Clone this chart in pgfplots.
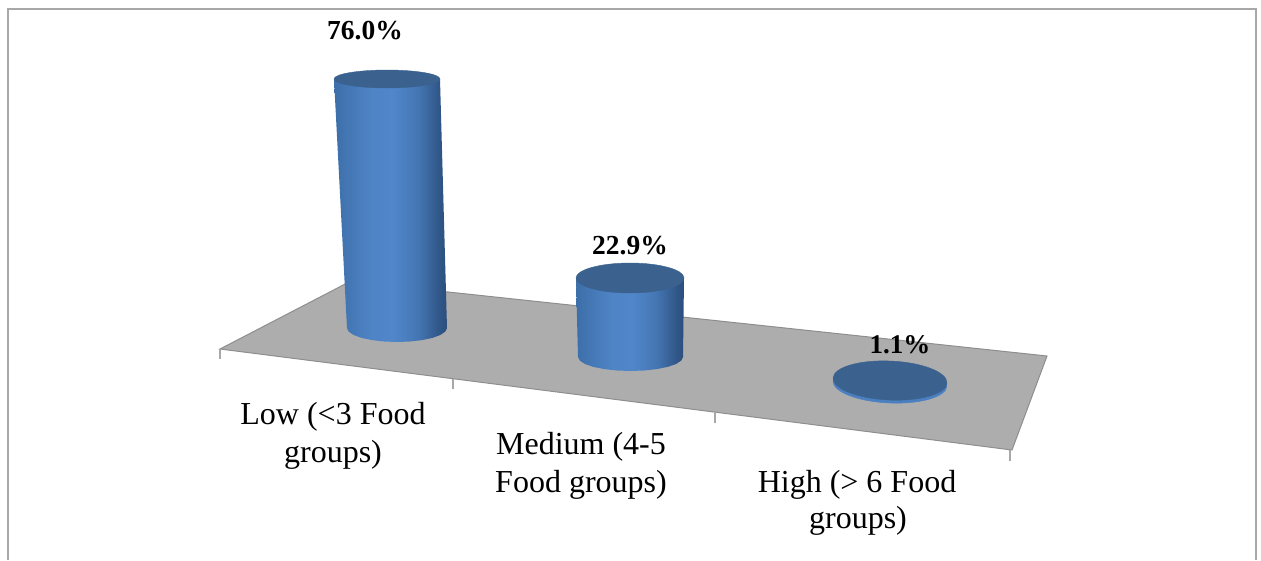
\documentclass[border=0pt]{standalone}
\usepackage{pgfplots}
\pgfplotsset{compat=1.18}
\usepackage{fontspec}
\setmainfont{Liberation Serif}
\definecolor{capcol}{HTML}{3B628F}
\definecolor{floorcol}{HTML}{ADADAD}
\definecolor{flooredge}{HTML}{8E8E8E}
\definecolor{framecol}{HTML}{A8A8A8}
\definecolor{rimcol}{HTML}{4A7FC0}
\definecolor{ca}{HTML}{3D6FA9}
\definecolor{cb}{HTML}{4F84C6}
\definecolor{cc}{HTML}{5087CA}
\definecolor{cd}{HTML}{4576B3}
\definecolor{ce}{HTML}{31588A}
\definecolor{cf}{HTML}{2B4E7C}
\pgfdeclarehorizontalshading{cylbody}{100bp}{color(0bp)=(ca); color(25bp)=(ca); color(42bp)=(cb); color(51bp)=(cc); color(62bp)=(cd); color(71bp)=(ce); color(75bp)=(cf); color(100bp)=(cf)}
\pgfdeclareplotmark{capA}{\pgfpathellipse{\pgfpointorigin}{\pgfqpoint{53pt}{0pt}}{\pgfqpoint{0pt}{9pt}}\pgfusepathqfillstroke}
\pgfdeclareplotmark{capB}{\pgfpathellipse{\pgfpointorigin}{\pgfqpoint{54pt}{0pt}}{\pgfqpoint{0pt}{15pt}}\pgfusepathqfillstroke}
\pgfdeclareplotmark{capC}{\pgfpathellipse{\pgfpointorigin}{\pgfqpoint{57pt}{0pt}}{\pgfqpoint{0pt}{19.5pt}}\pgfusepathqfillstroke}
\begin{document}
\begin{tikzpicture}
\path[use as bounding box] (0,0) rectangle (1261pt,560pt);
\begin{axis}[
  anchor=south west, at={(0,0)},
  width=1261pt, height=560pt, scale only axis,
  xmin=0, xmax=1261, ymin=0, ymax=560, y dir=reverse,
  hide axis, clip=false,
  every node/.append style={inner sep=0pt, outer sep=0pt},
]
% frame (open at the bottom)
\addplot[framecol, line width=2.4pt] coordinates {(8,560)(8,9)(1256,9)(1256,560)};
% floor
\addplot[flooredge, line width=1pt, fill=floorcol] coordinates {(220,349)(350,281.5)(1047,356)(1012,450)} -- cycle;
% ticks
\addplot[framecol, line width=1.4pt] coordinates {(220,349)(220,359)};
\addplot[framecol, line width=1.4pt] coordinates {(453,379)(453,389)};
\addplot[framecol, line width=1.4pt] coordinates {(715,412)(715,423)};
\addplot[framecol, line width=1.4pt] coordinates {(1010,450)(1010,461)};
% Low: 76.0
\addplot[draw=none, shading=cylbody] coordinates {(334,79)(440,79)(447,328)(445.3,331.6)(440.3,335)(432.4,337.9)(422,340.1)(409.9,341.5)(397,342)(384.1,341.5)(372,340.1)(361.6,337.9)(353.7,335)(348.7,331.6)(347,328)} -- cycle;
\addplot[only marks, mark=capA, mark options={fill=capcol, draw=capcol, line width=0.4pt}] coordinates {(387,79)};
% Medium: 22.9
\addplot[draw=none, shading=cylbody] coordinates {(576,278)(684,278)(683,357)(681.2,360.6)(676,364)(667.6,366.9)(656.8,369.1)(644.1,370.5)(630.5,371)(616.9,370.5)(604.3,369.1)(593.4,366.9)(585,364)(579.8,360.6)(578,357)} -- cycle;
\addplot[only marks, mark=capB, mark options={fill=capcol, draw=capcol, line width=0.4pt}] coordinates {(630,278)};
% High: 1.1
\addplot[only marks, mark=capC, mark options={fill=rimcol, draw=rimcol, line width=0.4pt, rotate=-2.5}] coordinates {(890,383.5)};
\addplot[only marks, mark=capC, mark options={fill=capcol, draw=capcol, line width=0.4pt, rotate=-2.5}] coordinates {(890,380.5)};
% value labels
\node[anchor=base, font=\fontsize{27.5}{27.5}\selectfont\bfseries] at (axis cs:365,39) {76.0\%};
\node[anchor=base, font=\fontsize{27.5}{27.5}\selectfont\bfseries] at (axis cs:630,254) {22.9\%};
\node[anchor=base, font=\fontsize{27}{27}\selectfont\bfseries] at (axis cs:900,353) {1.1\%};
% category labels
\node[anchor=base, font=\fontsize{32}{32}\selectfont] at (axis cs:333,424) {Low (<3 Food};
\node[anchor=base, font=\fontsize{32}{32}\selectfont] at (axis cs:333,462) {groups)};
\node[anchor=base, font=\fontsize{32}{32}\selectfont] at (axis cs:581,454) {Medium (4-5};
\node[anchor=base, font=\fontsize{32}{32}\selectfont] at (axis cs:581,492) {Food groups)};
\node[anchor=base, font=\fontsize{32}{32}\selectfont] at (axis cs:857,492) {High (> 6 Food};
\node[anchor=base, font=\fontsize{32}{32}\selectfont] at (axis cs:858,528) {groups)};
\end{axis}
\end{tikzpicture}
\end{document}
